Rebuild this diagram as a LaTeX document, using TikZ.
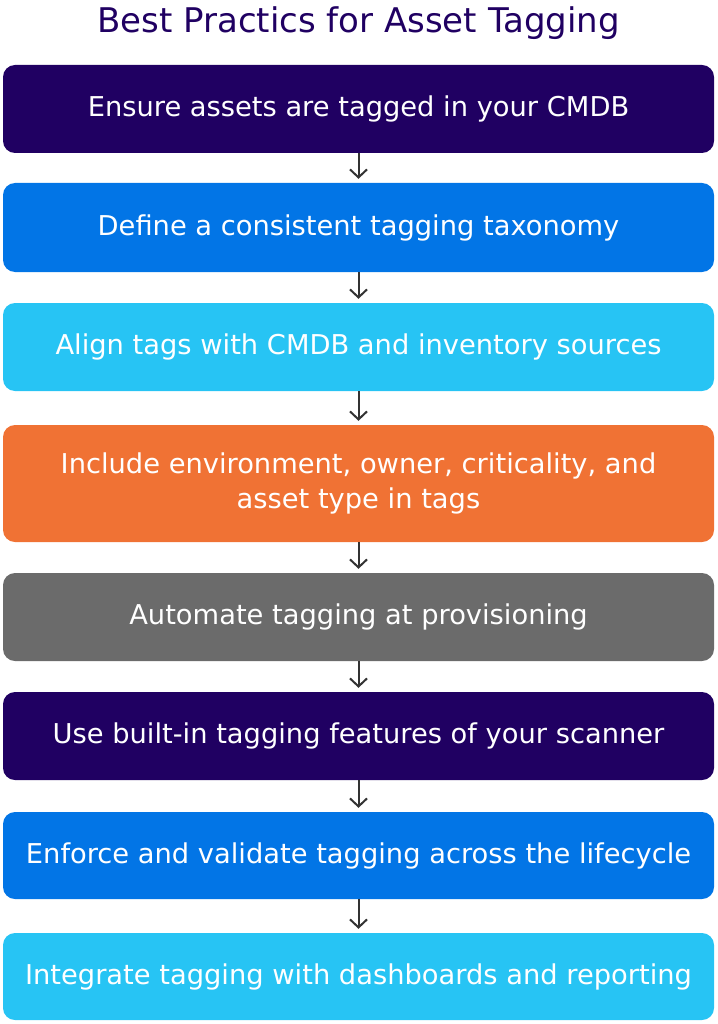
\documentclass[tikz,border=0pt]{standalone}
\usepackage{fontspec}
\setmainfont{DejaVu Sans}
\usetikzlibrary{arrows.meta}
\definecolor{tagpurple}{HTML}{200062}
\definecolor{tagblue}{HTML}{0275E6}
\definecolor{tagcyan}{HTML}{27C4F4}
\definecolor{tagorange}{HTML}{F07234}
\definecolor{taggray}{HTML}{6B6B6B}
\definecolor{tagarrow}{HTML}{333333}
\tikzset{
  practice/.style={rectangle, rounded corners=12, minimum width=711, inner sep=0pt,
    text=white, font=\fontsize{27.3}{35}\selectfont, align=center},
  flow/.style={line width=2pt, draw=tagarrow, shorten >=4,
    -{Straight Barb[length=8pt,width=17pt,line width=2pt]}}
}

\begin{document}
\begin{tikzpicture}[x=1pt,y=-1pt]
	\useasboundingbox (0,0) rectangle (717,1024);
	\node (title) at (358.5,23) {\color{tagpurple}\fontsize{34}{40}\selectfont Best Practics for Asset Tagging};

	% practices, top to bottom
	\node[practice, fill=tagpurple, minimum height=88] (p1) at (358.5,109) {Ensure assets are tagged in your CMDB};
	\node[practice, fill=tagblue, minimum height=89] (p2) at (358.5,227.5) {Define a consistent tagging taxonomy};
	\node[practice, fill=tagcyan, minimum height=88] (p3) at (358.5,347) {Align tags with CMDB and inventory sources};
	\node[practice, fill=tagorange, minimum height=117] (p4) at (358.5,483.5) {Include environment, owner, criticality, and\\ asset type in tags};
	\node[practice, fill=taggray, minimum height=88] (p5) at (358.5,617) {Automate tagging at provisioning};
	\node[practice, fill=tagpurple, minimum height=88] (p6) at (358.5,736) {Use built-in tagging features of your scanner};
	\node[practice, fill=tagblue, minimum height=87] (p7) at (358.5,855.5) {Enforce and validate tagging across the lifecycle};
	\node[practice, fill=tagcyan, minimum height=87] (p8) at (358.5,976.5) {Integrate tagging with dashboards and reporting};

	\foreach \a/\b in {p1/p2,p2/p3,p3/p4,p4/p5,p5/p6,p6/p7,p7/p8}
		\draw[flow] (\a.south) -- (\b.north);
\end{tikzpicture}
\end{document}
